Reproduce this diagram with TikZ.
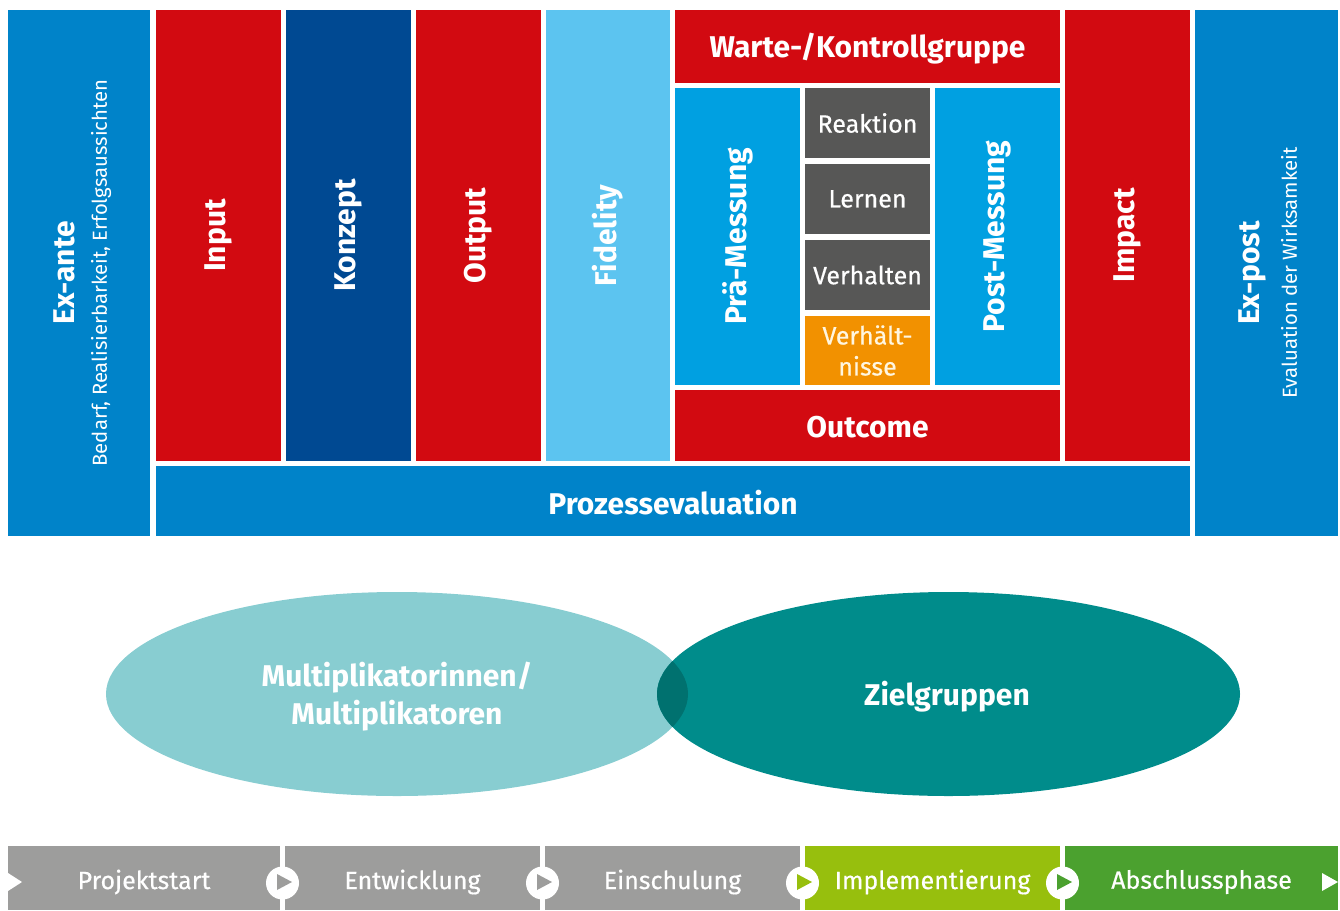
\documentclass[tikz,border=0pt]{standalone}
\usepackage{fontspec}
\setmainfont{Fira Sans}
\newfontfamily\semifont{Fira Sans}[FakeBold=0.5]
\usetikzlibrary{shapes.geometric}
\definecolor{cblue}{HTML}{0083C9}
\definecolor{cred}{HTML}{D20A11}
\definecolor{cdark}{HTML}{004992}
\definecolor{clight}{HTML}{5CC4F0}
\definecolor{cmid}{HTML}{00A0E1}
\definecolor{cgray}{HTML}{575756}
\definecolor{corange}{HTML}{F29100}
\definecolor{ccream}{HTML}{FFF6E0}
\definecolor{tlight}{HTML}{88CDD1}
\definecolor{tdark}{HTML}{008C8B}
\definecolor{tover}{HTML}{00716F}
\definecolor{bgray}{HTML}{9D9D9C}
\definecolor{bylw}{HTML}{97BF0D}
\definecolor{bgrn}{HTML}{4BA12F}
\newcommand\cell[6]{\node[cellbox,fill=#6,minimum width={#4-#2},minimum height={#5-#3}] (#1) at ({(#2+#4)/2},{(#3+#5)/2}) {};}
\tikzset{
  cellbox/.style={draw=none,inner sep=0pt,outer sep=0pt,rectangle},
  big/.style={text=white,inner sep=0pt,font=\fontsize{30}{38}\selectfont\bfseries},
  hbig/.style={big,yshift=-2pt},
  mid/.style={text=white,inner sep=0pt,font=\fontsize{25}{31}\selectfont\semifont},
  small/.style={text=white,inner sep=0pt,font=\fontsize{20.3}{24}\selectfont},
  phase/.style={text=white,inner sep=0pt,font=\fontsize{25}{30}\selectfont\semifont},
  knob/.style={circle,fill=white,minimum size=33pt,inner sep=0pt},
}
\begin{document}
\begin{tikzpicture}[x=1pt,y=-1pt]
\useasboundingbox (0,0) rectangle (1340,910);
% top block
\cell{exante}{8}{10}{150}{536}{cblue}
\cell{input}{156}{10}{281}{461}{cred}
\cell{konzept}{286}{10}{411}{461}{cdark}
\cell{output}{416}{10}{541}{461}{cred}
\cell{fidelity}{546}{10}{670}{461}{clight}
\cell{warte}{675}{10}{1060}{83}{cred}
\cell{prae}{675}{88}{800}{385}{cmid}
\cell{reaktion}{805}{88}{930}{158}{cgray}
\cell{lernen}{805}{164}{930}{234}{cgray}
\cell{verhalten}{805}{240}{930}{310}{cgray}
\cell{verhaelt}{805}{316}{930}{385}{corange}
\cell{post}{935}{88}{1060}{385}{cmid}
\cell{outcome}{675}{390}{1060}{461}{cred}
\cell{impact}{1065}{10}{1190}{461}{cred}
\cell{prozess}{156}{466}{1190}{536}{cblue}
\cell{expost}{1195}{10}{1338}{536}{cblue}
% labels
\node[big,rotate=90] (tExante) at (64,273) {Ex-ante};
\node[small,rotate=90] (tBedarf) at (101,273) {Bedarf, Realisierbarkeit, Erfolgsaussichten};
\node[big,rotate=90] at (input.center) (tInput) {Input};
\node[big,rotate=90] at (konzept.center) (tKonzept) {Konzept};
\node[big,rotate=90] at (output.center) (tOutput) {Output};
\node[big,rotate=90] at (fidelity.center) (tFidelity) {Fidelity};
\node[hbig] at (warte.center) (tWarte) {Warte-/Kontrollgruppe};
\node[big,rotate=90] at (prae.center) (tPrae) {Prä-Messung};
\node[big,rotate=90] at (post.center) (tPost) {Post-Messung};
\node[mid] at (reaktion.center) (tReaktion) {Reaktion};
\node[mid] at (lernen.center) (tLernen) {Lernen};
\node[mid] at (verhalten.center) (tVerhalten) {Verhalten};
\node[mid,text=ccream,align=center] at (verhaelt.center) (tVerhaelt) {Verhält-\\nisse};
\node[hbig] at (outcome.center) (tOutcome) {Outcome};
\node[big,rotate=90] at (impact.center) (tImpact) {Impact};
\node[hbig] at (prozess.center) (tProzess) {Prozessevaluation};
\node[big,rotate=90] (tExpost) at (1252,273) {Ex-post};
\node[small,rotate=90] (tEval) at (1289,273) {Evaluation der Wirksamkeit};
% ellipses
\node[ellipse,fill=tlight,minimum width=582pt,minimum height=204pt,inner sep=0pt] (multi) at (397,694) {};
\node[ellipse,fill=tdark,minimum width=583pt,minimum height=204pt,inner sep=0pt] (ziel) at (948.5,694) {};
\begin{scope}
\clip (397,694) ellipse [x radius=291pt,y radius=102pt];
\fill[tover] (948.5,694) ellipse [x radius=291.5pt,y radius=102pt];
\end{scope}
\node[hbig,align=center] (tMulti) at (397,695) {Multiplikatorinnen/\\Multiplikatoren};
\node[hbig] (tZiel) at (947,695) {Zielgruppen};
% phase bar
\cell{p1}{8}{846}{280}{910}{bgray}
\cell{p2}{285}{846}{540}{910}{bgray}
\cell{p3}{545}{846}{800}{910}{bgray}
\cell{p4}{805}{846}{1060}{910}{bylw}
\cell{p5}{1065}{846}{1338}{910}{bgrn}
\node[phase] (tP1) at (144,882) {Projektstart};
\node[phase] (tP2) at (412.5,882) {Entwicklung};
\node[phase] (tP3) at (672.5,882) {Einschulung};
\node[phase] (tP4) at (932.5,882) {Implementierung};
\node[phase] (tP5) at (1201.5,882) {Abschlussphase};
\fill[white] (8,873) -- (8,891) -- (22,882) -- cycle;
\fill[white] (1322,873) -- (1322,891) -- (1338,882) -- cycle;
\node[knob] (k1) at (282.5,883) {};
\node[knob] (k2) at (542.5,883) {};
\node[knob] (k3) at (802.5,883) {};
\node[knob] (k4) at (1062.5,883) {};
\fill[bgray] (277,874) -- (277,890) -- (292,882) -- cycle;
\fill[bgray] (537,874) -- (537,890) -- (552,882) -- cycle;
\fill[bylw] (797,874) -- (797,890) -- (812,882) -- cycle;
\fill[bgrn] (1057,874) -- (1057,890) -- (1072,882) -- cycle;
\end{tikzpicture}
\end{document}
